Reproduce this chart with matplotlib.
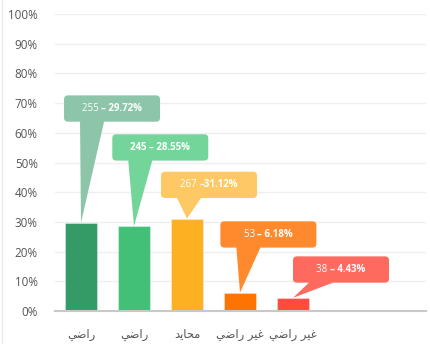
import matplotlib
matplotlib.use('Agg')
import matplotlib.pyplot as plt
from matplotlib.path import Path
from matplotlib.patches import PathPatch
from matplotlib.lines import Line2D
from matplotlib.offsetbox import TextArea, HPacker, AnnotationBbox
from matplotlib.ticker import FuncFormatter

# Arabic labels written in presentation forms, visual (left-to-right) order
labels = ['\uFEF2\uFEBF\uFE8D\uFEAD',
          '\uFEF2\uFEBF\uFE8D\uFEAD',
          '\uFEAA\uFEF3\uFE8E\uFEA4\uFEE3',
          '\uFEF2\uFEBF\uFE8D\uFEAD \uFEAE\uFEF4\uFECF',
          '\uFEF2\uFEBF\uFE8D\uFEAD \uFEAE\uFEF4\uFECF']
counts = [255, 245, 267, 53, 38]
percents = [29.72, 28.55, 31.12, 6.18, 4.43]
callout_text = [('255 ', '\u2013 29.72%'),
                ('', '245 \u2013 28.55%'),
                ('267 ', '\u201331.12%'),
                ('53 ', '\u2013 6.18%'),
                ('38 ', '\u2013 4.43%')]

bar_colors = ['#349A66', '#42C077', '#FDB022', '#FF7300', '#FF4B3D']
box_colors = ['#8CC5A7', '#74D59B', '#FEC865', '#FF8A2E', '#FF6A5F']
# callout box: left edge (category units), top edge (%)
box_left = [-0.32, 0.59, 1.51, 2.63, 4.0]
box_top = [72.6, 59.5, 46.9, 30.2, 18.4]

W, H = 430, 344
fig = plt.figure(figsize=(W / 100, H / 100), dpi=100)
ax = fig.add_axes([54.5 / W, 33 / H, 371 / W, 297 / H])
ax.set_xlim(-0.5, 6.5)
ax.set_ylim(0, 100)

px_x = 371 / 7.0    # pixels per category
px_y = 297 / 100.0  # pixels per percent

xs = list(range(len(percents)))
ax.bar(xs, percents, width=0.585, color=bar_colors,
       edgecolor=(1, 1, 1, 0.35), linewidth=0.8, zorder=2)

ax.set_yticks(range(0, 101, 10))
ax.yaxis.set_major_formatter(FuncFormatter(lambda v, p: f'{int(v)}%'))
ax.set_xticks(xs)
ax.set_xticklabels(labels, family=['DejaVu Sans'], fontsize=8.3, color='#555555')
ax.tick_params(axis='y', length=0, pad=12, labelsize=8.4, labelcolor='#555555')
ax.tick_params(axis='x', length=0, pad=12)
for t in ax.get_yticklabels():
    t.set_family(['Open Sans', 'DejaVu Sans'])

ax.grid(axis='y', color='#EFEFEF', linewidth=1, zorder=0)
ax.set_axisbelow(True)
for side in ['top', 'right', 'left']:
    ax.spines[side].set_visible(False)
ax.spines['bottom'].set_color('#C8C8C8')
ax.spines['bottom'].set_linewidth(1.5)


def callout_path(left, top, tip_x, tip_y):
    w = 96 / px_x
    h = 26.3 / px_y
    rx = 4 / px_x
    ry = 4 / px_y
    right = left + w
    bottom = top - h
    b0 = left + 16 / px_x
    b1 = left + 40 / px_x
    verts = [(left + rx, top), (right - rx, top),
             (right, top), (right, top - ry),
             (right, bottom + ry),
             (right, bottom), (right - rx, bottom),
             (b1, bottom), (tip_x, tip_y), (b0, bottom),
             (left + rx, bottom),
             (left, bottom), (left, bottom + ry),
             (left, top - ry),
             (left, top), (left + rx, top),
             (left + rx, top)]
    codes = [Path.MOVETO, Path.LINETO,
             Path.CURVE3, Path.CURVE3,
             Path.LINETO,
             Path.CURVE3, Path.CURVE3,
             Path.LINETO, Path.LINETO, Path.LINETO,
             Path.LINETO,
             Path.CURVE3, Path.CURVE3,
             Path.LINETO,
             Path.CURVE3, Path.CURVE3,
             Path.CLOSEPOLY]
    return Path(verts, codes)


for i in xs:
    p = callout_path(box_left[i], box_top[i], i, percents[i])
    ax.add_patch(PathPatch(p, facecolor=box_colors[i], edgecolor='none', zorder=3))
    light, bold = callout_text[i]
    parts = []
    if light:
        parts.append(TextArea(light, textprops=dict(color='white', fontsize=7.0,
                                                    fontweight='normal',
                                                    family=['Open Sans', 'DejaVu Sans'])))
    parts.append(TextArea(bold, textprops=dict(color='white', fontsize=7.0,
                                               fontweight='bold',
                                               family=['Open Sans', 'DejaVu Sans'])))
    txt = HPacker(children=parts, sep=0, pad=0, align='baseline')
    cx = box_left[i] + 48 / px_x
    cy = box_top[i] - 13.15 / px_y
    ab = AnnotationBbox(txt, (cx, cy), frameon=False, box_alignment=(0.5, 0.5),
                        pad=0, zorder=4)
    ax.add_artist(ab)

# thin frame line on the left edge
fig.add_artist(Line2D([1.5 / W, 1.5 / W], [0, 1], color='#EBEBEB', linewidth=1))

fig.savefig('out.png', dpi=100)
